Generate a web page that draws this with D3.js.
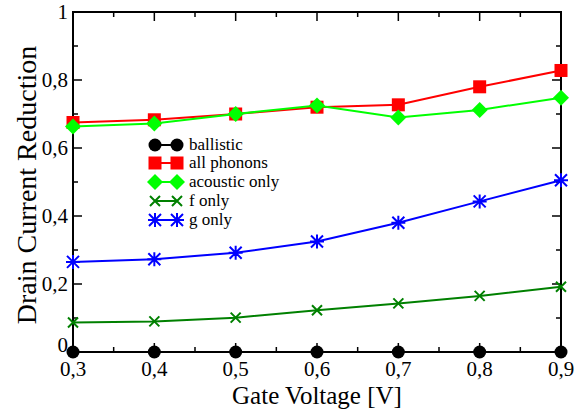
<!DOCTYPE html>
<html>
<head>
<meta charset="utf-8">
<script src="https://cdn.jsdelivr.net/npm/d3@7"></script>
<style>
  body { margin: 0; background: #fff; }
  text { font-family: "Liberation Serif", "DejaVu Serif", serif; }
</style>
</head>
<body>
<script>
// gate voltages
const voltages = [0.3, 0.4, 0.5, 0.6, 0.7, 0.8, 0.9];

// drain current reduction per case
const ballistic   = [0, 0, 0, 0, 0, 0, 0];
const allPhonons  = [0.675, 0.683, 0.700, 0.720, 0.727, 0.780, 0.828];
const acoustic    = [0.663, 0.672, 0.700, 0.725, 0.690, 0.712, 0.748];
const fOnly       = [0.087, 0.090, 0.101, 0.123, 0.143, 0.165, 0.192];
const gOnly       = [0.265, 0.273, 0.292, 0.325, 0.380, 0.443, 0.505];

const xTicks = [0.3, 0.4, 0.5, 0.6, 0.7, 0.8, 0.9];
const yTicks = [0, 0.2, 0.4, 0.6, 0.8, 1];

const series = [
  { name: "ballistic",    values: ballistic,  color: "#000000", marker: "circle" },
  { name: "all phonons",  values: allPhonons, color: "#ff0000", marker: "square" },
  { name: "acoustic only",values: acoustic,   color: "#00ff00", marker: "diamond" },
  { name: "f only",       values: fOnly,      color: "#008000", marker: "cross" },
  { name: "g only",       values: gOnly,      color: "#0000ff", marker: "star" }
];

const width = 582, height = 410;
const margin = { left: 73, right: 21, top: 12, bottom: 58 };

const svg = d3.select("body").append("svg")
  .attr("width", width)
  .attr("height", height);

const x = d3.scaleLinear().domain([0.3, 0.9]).range([margin.left, width - margin.right]);
const y = d3.scaleLinear().domain([0, 1]).range([height - margin.bottom, margin.top]);

const fmt = d => (d === 0 || d === 1) ? String(d) : d3.format(".1f")(d).replace(".", ",");

// minor ticks
const xMinor = d3.range(0.35, 0.9, 0.1);
const yMinor = d3.range(0.1, 1, 0.2);

const g = svg.append("g");

function tickLines(vals, isX, len) {
  vals.forEach(v => {
    if (isX) {
      const px = x(v);
      g.append("line").attr("x1", px).attr("x2", px)
        .attr("y1", y(0)).attr("y2", y(0) - len);
      g.append("line").attr("x1", px).attr("x2", px)
        .attr("y1", y(1)).attr("y2", y(1) + len);
    } else {
      const py = y(v);
      g.append("line").attr("y1", py).attr("y2", py)
        .attr("x1", x(0.3)).attr("x2", x(0.3) + len);
      g.append("line").attr("y1", py).attr("y2", py)
        .attr("x1", x(0.9)).attr("x2", x(0.9) - len);
    }
  });
}
tickLines(xTicks, true, 9);
tickLines(xMinor, true, 5);
tickLines(yTicks, false, 9);
tickLines(yMinor, false, 5);
g.selectAll("line").attr("stroke", "#000").attr("stroke-width", 1.5);

svg.append("rect")
  .attr("x", x(0.3)).attr("y", y(1))
  .attr("width", x(0.9) - x(0.3)).attr("height", y(0) - y(1))
  .attr("fill", "none").attr("stroke", "#000").attr("stroke-width", 2);

// tick labels
svg.selectAll(".xl").data(xTicks).enter().append("text")
  .attr("x", d => x(d)).attr("y", y(0) + 24)
  .attr("text-anchor", "middle").attr("font-size", 21)
  .text(fmt);

svg.selectAll(".yl").data(yTicks).enter().append("text")
  .attr("x", x(0.3) - 5).attr("y", d => y(d) + (d === 0 ? 0 : 7))
  .attr("text-anchor", "end").attr("font-size", 21)
  .text(fmt);

// axis titles
svg.append("text")
  .attr("x", (x(0.3) + x(0.9)) / 2).attr("y", 404)
  .attr("text-anchor", "middle").attr("font-size", 25)
  .text("Gate Voltage [V]");

svg.append("text")
  .attr("transform", `translate(36,${(y(0) + y(1)) / 2 + 3}) rotate(-90)`)
  .attr("text-anchor", "middle").attr("font-size", 28)
  .text("Drain Current Reduction");

function drawMarker(sel, m, color, cx, cy) {
  if (m === "circle") {
    sel.append("circle").attr("cx", cx).attr("cy", cy).attr("r", 6.5).attr("fill", color);
  } else if (m === "square") {
    sel.append("rect").attr("x", cx - 6.5).attr("y", cy - 6.5).attr("width", 13).attr("height", 13).attr("fill", color);
  } else if (m === "diamond") {
    const s = 8;
    sel.append("path").attr("d", `M${cx},${cy - s}L${cx + s},${cy}L${cx},${cy + s}L${cx - s},${cy}Z`).attr("fill", color);
  } else if (m === "cross") {
    const s = 5;
    sel.append("path").attr("d", `M${cx - s},${cy - s}L${cx + s},${cy + s}M${cx - s},${cy + s}L${cx + s},${cy - s}`)
      .attr("stroke", color).attr("stroke-width", 2);
  } else if (m === "star") {
    const s = 6;
    sel.append("path").attr("d",
      `M${cx - s},${cy - s}L${cx + s},${cy + s}M${cx - s},${cy + s}L${cx + s},${cy - s}M${cx},${cy - s - 1}L${cx},${cy + s + 1}M${cx - s - 1},${cy}L${cx + s + 1},${cy}`)
      .attr("stroke", color).attr("stroke-width", 2);
  }
}

const line = d3.line().x((d, i) => x(voltages[i])).y(d => y(d));

// draw in order so later series sit on top
const drawOrder = [4, 3, 1, 2, 0];
drawOrder.forEach(k => {
  const s = series[k];
  const sg = svg.append("g");
  sg.append("path").datum(s.values).attr("d", line)
    .attr("fill", "none").attr("stroke", s.color).attr("stroke-width", 2);
  s.values.forEach((v, i) => drawMarker(sg, s.marker, s.color, x(voltages[i]), y(v)));
});

// legend
const legend = svg.append("g");
const legY = [145, 163, 182, 201, 220];
series.forEach((s, i) => {
  const ly = legY[i];
  legend.append("line").attr("x1", 155).attr("x2", 177).attr("y1", ly).attr("y2", ly)
    .attr("stroke", s.color).attr("stroke-width", 2);
  drawMarker(legend, s.marker, s.color, 155, ly);
  drawMarker(legend, s.marker, s.color, 177, ly);
  legend.append("text").attr("x", 189).attr("y", ly + 5)
    .attr("font-size", 17).text(s.name);
});
</script>
</body>
</html>
